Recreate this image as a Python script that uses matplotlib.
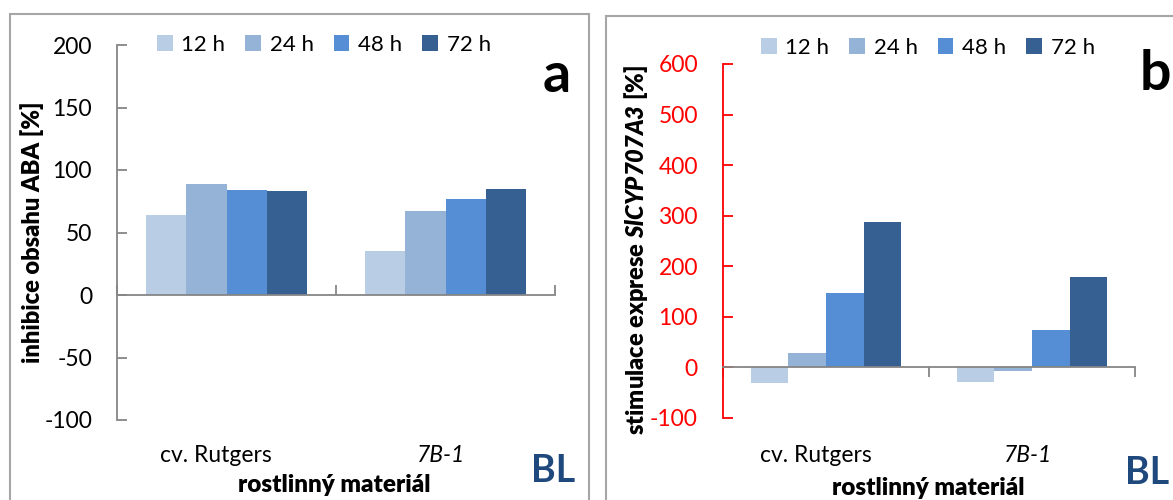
"""Two-panel grouped bar chart: ABA inhibition (a) and SlCYP707A3 stimulation (b)."""
import numpy as np
import matplotlib.pyplot as plt
from matplotlib.patches import Patch, Rectangle
from matplotlib.transforms import blended_transform_factory

plt.rcParams['font.family'] = ['Lato', 'DejaVu Sans']
plt.rcParams['mathtext.fontset'] = 'custom'
plt.rcParams['mathtext.bfit'] = 'Lato:heavy:italic'
plt.rcParams['mathtext.rm'] = 'Lato'

W, H = 1173, 500

categories = ['cv. Rutgers', '7B-1']
category_italic = [False, True]
series = ['12 h', '24 h', '48 h', '72 h']
colors = ['#B9CDE5', '#95B3D7', '#558ED5', '#376092']

aba_12h = [64, 35]
aba_24h = [89, 67]
aba_48h = [84, 77]
aba_72h = [83, 85]

cyp_12h = [-30, -28]
cyp_24h = [28, -8]
cyp_48h = [148, 75]
cyp_72h = [288, 178]

aba_ticks = [-100, -50, 0, 50, 100, 150, 200]
cyp_ticks = [-100, 0, 100, 200, 300, 400, 500, 600]

GRAY = '#868686'
BORDER = '#A6A6A6'
BL_BLUE = '#1F497D'


def fx(x):
    return x / W


def fy(y):
    return 1 - y / H


def draw_panel(fig, rect, values, ticks, axis_color, xtick_dir, label_y, label_x_px, legend_c, ylab):
    ax = fig.add_axes(rect)
    w = 0.183
    x = np.arange(len(categories))
    for i, (vals, col) in enumerate(zip(values, colors)):
        ax.bar(x + (i - 1.5) * w, vals, width=w, color=col, linewidth=0, zorder=1)

    ax.set_xlim(-0.5, len(categories) - 0.5)
    ax.set_ylim(ticks[0], ticks[-1])
    ax.set_yticks(ticks)
    ax.set_yticklabels([str(t) for t in ticks])
    ax.set_xticks([-0.5, 0.5, 1.5])
    ax.set_xticklabels([])

    for s in ('top', 'right'):
        ax.spines[s].set_visible(False)
    ax.spines['bottom'].set_position(('data', 0))
    ax.spines['bottom'].set_color(GRAY)
    ax.spines['bottom'].set_linewidth(1.3)
    ax.spines['bottom'].set_zorder(3)
    ax.spines['left'].set_color(axis_color)
    ax.spines['left'].set_linewidth(1.3)

    ax.tick_params(axis='y', direction='in', length=7, width=1.3, color=axis_color,
                   labelcolor='black' if axis_color == GRAY else axis_color,
                   labelsize=16.5, pad=18)
    ax.tick_params(axis='x', direction=xtick_dir, length=7, width=1.3, color=GRAY)
    ax.set_facecolor('none')

    tr = blended_transform_factory(ax.transData, fig.transFigure)
    for i, (cat, it) in enumerate(zip(categories, category_italic)):
        ax.text(i + (-0.05 if not it else -0.02), fy(455), cat, transform=tr, ha='center', va='center',
                fontsize=16.5, style='italic' if it else 'normal')

    fig.text(fx(label_x_px[0]), fy(label_y[0]), ylab, rotation=90, ha='center', va='center',
             fontsize=17, fontweight='heavy')
    fig.text(fx(label_x_px[1]), fy(label_y[1]), 'rostlinný materiál', ha='center', va='center',
             fontsize=17.5, fontweight='heavy')

    handles = [Patch(facecolor=c, edgecolor='none') for c in colors]
    ax.legend(handles, series, ncol=4, loc='center', bbox_to_anchor=(fx(legend_c[0]), fy(legend_c[1])),
              bbox_transform=fig.transFigure, frameon=False, handlelength=0.7, handleheight=0.7,
              handletextpad=0.4, columnspacing=0.9, fontsize=16, borderpad=0)
    return ax


fig = plt.figure(figsize=(W / 100, H / 100), dpi=100)

# panel frames
fig.patches.append(Rectangle((fx(10), fy(520)), fx(589 - 10), fy(14) - fy(520), transform=fig.transFigure,
                             fill=False, edgecolor=BORDER, linewidth=1.5))
fig.patches.append(Rectangle((fx(606), fy(520)), fx(600), fy(16) - fy(520), transform=fig.transFigure,
                             fill=False, edgecolor=BORDER, linewidth=1.5))

draw_panel(fig, [fx(117), fy(420), fx(555 - 117), fy(45) - fy(420)],
           [aba_12h, aba_24h, aba_48h, aba_72h], aba_ticks, GRAY, 'in',
           (232, 485), (32, 334), (324, 45), 'inhibice obsahu ABA [%]')

draw_panel(fig, [fx(723), fy(418), fx(1135 - 723), fy(64) - fy(418)],
           [cyp_12h, cyp_24h, cyp_48h, cyp_72h], cyp_ticks, 'red', 'out',
           (250, 488), (636, 928), (928, 48),
           r'stimulace exprese $\mathbfit{SlCYP707A3}$ [%]')

fig.text(fx(557), fy(92), 'a', ha='center', va='baseline', fontsize=40, fontweight='bold')
fig.text(fx(1140), fy(90), 'b', ha='left', va='baseline', fontsize=40, fontweight='bold')
fig.text(fx(553), fy(482), 'BL', ha='center', va='baseline', fontsize=27, fontweight='bold', color=BL_BLUE)
fig.text(fx(1125), fy(484), 'BL', ha='left', va='baseline', fontsize=27, fontweight='bold', color=BL_BLUE)

fig.savefig('out.png', dpi=100)
